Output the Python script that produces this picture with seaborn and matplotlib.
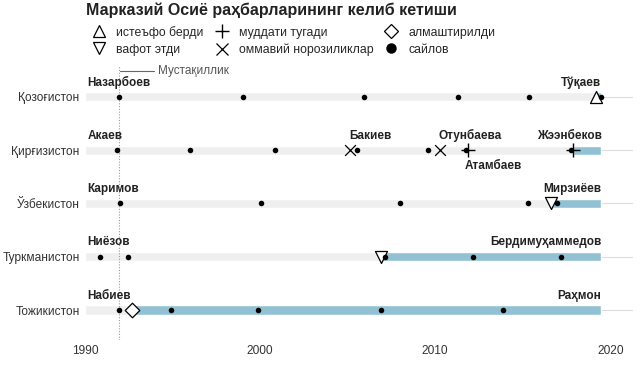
import matplotlib
matplotlib.use("Agg")
import matplotlib.pyplot as plt
from matplotlib.lines import Line2D
import pandas as pd
import seaborn as sns

# Data (decimal years)
countries = ['Қозоғистон', 'Қирғизистон', 'Ўзбекистон', 'Туркманистон', 'Тожикистон']
current_since = [2019.2, 2017.9, 2016.65, 2006.93, 1992.7]
series_start = 1990.0
series_end = 2019.5

elections = {
    'Қозоғистон': [1991.94, 1999.03, 2005.94, 2011.31, 2015.37, 2019.49],
    'Қирғизистон': [1991.83, 1995.98, 2000.86, 2005.54, 2009.6, 2011.77, 2017.77],
    'Ўзбекистон': [1992.0, 2000.06, 2008.0, 2015.31, 2016.97],
    'Туркманистон': [1990.86, 1992.46, 2007.14, 2012.17, 2017.2],
    'Тожикистон': [1991.94, 1994.91, 1999.89, 2006.91, 2013.89],
}
resigned = {'Қозоғистон': [2019.2]}
died = {'Ўзбекистон': [2016.63], 'Туркманистон': [2006.91]}
term_ended = {'Қирғизистон': [2011.9, 2017.89]}
protests = {'Қирғизистон': [2005.14, 2010.29]}
replaced = {'Тожикистон': [1992.69]}

# leader labels: (country, name, year, align, position)
leaders = [
    ('Қозоғистон', 'Назарбоев', 1990.15, 'left', 'above'),
    ('Қозоғистон', 'Тўқаев', 2019.5, 'right', 'above'),
    ('Қирғизистон', 'Акаев', 1990.15, 'left', 'above'),
    ('Қирғизистон', 'Бакиев', 2006.3, 'center', 'above'),
    ('Қирғизистон', 'Отунбаева', 2012.0, 'center', 'above'),
    ('Қирғизистон', 'Атамбаев', 2013.3, 'center', 'below'),
    ('Қирғизистон', 'Жээнбеков', 2017.7, 'center', 'above'),
    ('Ўзбекистон', 'Каримов', 1990.15, 'left', 'above'),
    ('Ўзбекистон', 'Мирзиёев', 2019.5, 'right', 'above'),
    ('Туркманистон', 'Ниёзов', 1990.15, 'left', 'above'),
    ('Туркманистон', 'Бердимуҳаммедов', 2019.5, 'right', 'above'),
    ('Тожикистон', 'Набиев', 1990.15, 'left', 'above'),
    ('Тожикистон', 'Раҳмон', 2019.5, 'right', 'above'),
]
independence = 1991.95

sns.set_theme(style="white")
plt.rcParams['font.family'] = ['Liberation Sans', 'DejaVu Sans']

row = {c: i for i, c in enumerate(countries)}


def to_df(d):
    recs = [(c, y) for c, ys in d.items() for y in ys]
    df = pd.DataFrame(recs, columns=['country', 'year'])
    df['row'] = df['country'].map(row)
    return df


fig = plt.figure(figsize=(6.4, 3.67), dpi=100)
ax = fig.add_axes([0.133, 0.074, 0.856, 0.749])

grey = '#efefef'
blue = '#92c1d3'
bh = 0.17
for i, c in enumerate(countries):
    ax.axhline(i, color='#dcdcdc', lw=0.8, zorder=0)
    ax.barh(i, series_end - series_start, left=series_start, height=bh,
            color=grey, zorder=1)
    ax.barh(i, series_end - current_since[i], left=current_since[i], height=bh,
            color=blue, zorder=2)

# independence marker
ax.axvline(independence, color='#999999', lw=0.8, ls=(0, (1, 1.5)), zorder=1.5)
ax.plot([independence + 0.05, independence + 2.0], [-0.49, -0.49], color='#666666', lw=0.8)
ax.text(independence + 2.2, -0.49, 'Мустақиллик', color='#555555', fontsize=8.5, va='center')

kw = dict(ax=ax, legend=False, zorder=4)
sns.scatterplot(data=to_df(resigned), x='year', y='row', marker='^', s=75,
                facecolor='white', edgecolor='black', linewidth=0.9, **kw)
sns.scatterplot(data=to_df(died), x='year', y='row', marker='v', s=75,
                facecolor='white', edgecolor='black', linewidth=0.9, **kw)
sns.scatterplot(data=to_df(replaced), x='year', y='row', marker='D', s=55,
                facecolor='white', edgecolor='black', linewidth=0.9, **kw)
sns.scatterplot(data=to_df(elections), x='year', y='row', marker='o', s=16,
                color='black', edgecolor='black', linewidth=0, ax=ax, legend=False, zorder=5)
sns.scatterplot(data=to_df(protests), x='year', y='row', marker='x', s=60,
                color='black', linewidth=0.9, ax=ax, legend=False, zorder=6)
sns.scatterplot(data=to_df(term_ended), x='year', y='row', marker='+', s=90,
                color='black', linewidth=1.0, ax=ax, legend=False, zorder=6)

for c, name, x, ha, pos in leaders:
    y = row[c] - 0.27 if pos == 'above' else row[c] + 0.29
    ax.text(x, y, name, ha=ha, va='center', fontsize=8.5, fontweight='bold', color='#222222')

ax.set_xlim(1990, 2021.3)
ax.set_ylim(4.56, -0.6)
ax.set_yticks(range(len(countries)))
ax.set_yticklabels(countries, fontsize=8.6, color='#333333')
ax.set_xticks([1990, 2000, 2010, 2020])
ax.set_xticklabels(['1990', '2000', '2010', '2020'], fontsize=8.6, color='#333333')
ax.tick_params(length=0, pad=4)
ax.set_xlabel('')
ax.set_ylabel('')
sns.despine(ax=ax, left=True, bottom=True)

fig.text(0.134, 0.973, 'Марказий Осиё раҳбарларининг келиб кетиши',
         fontsize=11.5, fontweight='bold', va='center', color='#222222')

handles = [
    Line2D([], [], ls='', marker='^', ms=9, mfc='white', mec='black', mew=0.9),
    Line2D([], [], ls='', marker='v', ms=9, mfc='white', mec='black', mew=0.9),
    Line2D([], [], ls='', marker='+', ms=10, color='black', mew=1.0),
    Line2D([], [], ls='', marker='x', ms=8, color='black', mew=0.9),
    Line2D([], [], ls='', marker='D', ms=7, mfc='white', mec='black', mew=0.9),
    Line2D([], [], ls='', marker='o', ms=6.5, color='black'),
]
labels = ['истеъфо берди', 'вафот этди', 'муддати тугади', 'оммавий норозиликлар',
          'алмаштирилди', 'сайлов']
fig.legend(handles, labels, ncol=3, loc='upper left', bbox_to_anchor=(0.1418, 0.93),
           frameon=False, fontsize=8.8, handletextpad=0.7, columnspacing=0.75,
           labelspacing=0.42, handlelength=1.4, borderpad=0, borderaxespad=0)

fig.savefig('out.png', dpi=100)
